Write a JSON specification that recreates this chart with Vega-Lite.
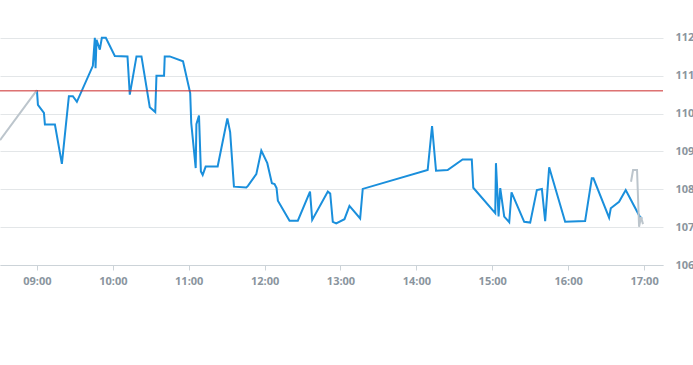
{
  "width": 663,
  "height": 265,
  "autosize": "none",
  "padding": {"left": 0, "top": 0, "right": 30, "bottom": 100},
  "background": "white",
  "config": {"view": {"stroke": null}},
  "datasets": {
    "price": [
      {"t": "2024-01-02T08:30:48", "v": 109.30, "s": "pre"},
      {"t": "2024-01-02T09:00:00", "v": 110.62, "s": "pre"},
      {"t": "2024-01-02T09:00:00", "v": 110.62, "s": "main"},
      {"t": "2024-01-02T09:00:47", "v": 110.23, "s": "main"},
      {"t": "2024-01-02T09:05:32", "v": 110.02, "s": "main"},
      {"t": "2024-01-02T09:06:19", "v": 109.71, "s": "main"},
      {"t": "2024-01-02T09:14:13", "v": 109.71, "s": "main"},
      {"t": "2024-01-02T09:19:44", "v": 108.67, "s": "main"},
      {"t": "2024-01-02T09:22:40", "v": 109.62, "s": "main"},
      {"t": "2024-01-02T09:25:16", "v": 110.46, "s": "main"},
      {"t": "2024-01-02T09:28:25", "v": 110.46, "s": "main"},
      {"t": "2024-01-02T09:31:35", "v": 110.31, "s": "main"},
      {"t": "2024-01-02T09:44:13", "v": 111.26, "s": "main"},
      {"t": "2024-01-02T09:45:47", "v": 112.00, "s": "main"},
      {"t": "2024-01-02T09:46:20", "v": 111.20, "s": "main"},
      {"t": "2024-01-02T09:47:08", "v": 111.95, "s": "main"},
      {"t": "2024-01-02T09:49:44", "v": 111.69, "s": "main"},
      {"t": "2024-01-02T09:51:19", "v": 112.00, "s": "main"},
      {"t": "2024-01-02T09:54:28", "v": 112.00, "s": "main"},
      {"t": "2024-01-02T10:01:35", "v": 111.52, "s": "main"},
      {"t": "2024-01-02T10:11:36", "v": 111.51, "s": "main"},
      {"t": "2024-01-02T10:13:25", "v": 110.50, "s": "main"},
      {"t": "2024-01-02T10:18:42", "v": 111.51, "s": "main"},
      {"t": "2024-01-02T10:22:39", "v": 111.51, "s": "main"},
      {"t": "2024-01-02T10:29:13", "v": 110.17, "s": "main"},
      {"t": "2024-01-02T10:33:33", "v": 110.04, "s": "main"},
      {"t": "2024-01-02T10:34:30", "v": 111.00, "s": "main"},
      {"t": "2024-01-02T10:40:30", "v": 111.00, "s": "main"},
      {"t": "2024-01-02T10:41:03", "v": 111.51, "s": "main"},
      {"t": "2024-01-02T10:45:00", "v": 111.51, "s": "main"},
      {"t": "2024-01-02T10:55:30", "v": 111.38, "s": "main"},
      {"t": "2024-01-02T11:01:11", "v": 110.54, "s": "main"},
      {"t": "2024-01-02T11:02:00", "v": 109.75, "s": "main"},
      {"t": "2024-01-02T11:05:32", "v": 108.56, "s": "main"},
      {"t": "2024-01-02T11:06:05", "v": 109.72, "s": "main"},
      {"t": "2024-01-02T11:08:08", "v": 109.95, "s": "main"},
      {"t": "2024-01-02T11:09:38", "v": 108.47, "s": "main"},
      {"t": "2024-01-02T11:11:03", "v": 108.38, "s": "main"},
      {"t": "2024-01-02T11:13:25", "v": 108.60, "s": "main"},
      {"t": "2024-01-02T11:22:54", "v": 108.60, "s": "main"},
      {"t": "2024-01-02T11:30:33", "v": 109.87, "s": "main"},
      {"t": "2024-01-02T11:32:46", "v": 109.51, "s": "main"},
      {"t": "2024-01-02T11:35:46", "v": 108.07, "s": "main"},
      {"t": "2024-01-02T11:45:34", "v": 108.05, "s": "main"},
      {"t": "2024-01-02T11:46:50", "v": 108.09, "s": "main"},
      {"t": "2024-01-02T11:53:27", "v": 108.40, "s": "main"},
      {"t": "2024-01-02T11:57:24", "v": 109.02, "s": "main"},
      {"t": "2024-01-02T12:02:08", "v": 108.69, "s": "main"},
      {"t": "2024-01-02T12:05:46", "v": 108.16, "s": "main"},
      {"t": "2024-01-02T12:07:53", "v": 108.14, "s": "main"},
      {"t": "2024-01-02T12:09:28", "v": 108.03, "s": "main"},
      {"t": "2024-01-02T12:10:30", "v": 107.70, "s": "main"},
      {"t": "2024-01-02T12:19:44", "v": 107.17, "s": "main"},
      {"t": "2024-01-02T12:26:17", "v": 107.17, "s": "main"},
      {"t": "2024-01-02T12:35:55", "v": 107.94, "s": "main"},
      {"t": "2024-01-02T12:37:39", "v": 107.19, "s": "main"},
      {"t": "2024-01-02T12:50:00", "v": 107.94, "s": "main"},
      {"t": "2024-01-02T12:51:53", "v": 107.89, "s": "main"},
      {"t": "2024-01-02T12:53:55", "v": 107.14, "s": "main"},
      {"t": "2024-01-02T12:56:36", "v": 107.10, "s": "main"},
      {"t": "2024-01-02T13:03:09", "v": 107.21, "s": "main"},
      {"t": "2024-01-02T13:07:06", "v": 107.56, "s": "main"},
      {"t": "2024-01-02T13:15:33", "v": 107.23, "s": "main"},
      {"t": "2024-01-02T13:17:36", "v": 108.01, "s": "main"},
      {"t": "2024-01-02T14:08:56", "v": 108.51, "s": "main"},
      {"t": "2024-01-02T14:12:24", "v": 109.67, "s": "main"},
      {"t": "2024-01-02T14:15:33", "v": 108.49, "s": "main"},
      {"t": "2024-01-02T14:24:43", "v": 108.51, "s": "main"},
      {"t": "2024-01-02T14:36:33", "v": 108.79, "s": "main"},
      {"t": "2024-01-02T14:43:49", "v": 108.79, "s": "main"},
      {"t": "2024-01-02T14:45:00", "v": 108.04, "s": "main"},
      {"t": "2024-01-02T15:02:22", "v": 107.37, "s": "main"},
      {"t": "2024-01-02T15:02:55", "v": 108.69, "s": "main"},
      {"t": "2024-01-02T15:05:00", "v": 107.28, "s": "main"},
      {"t": "2024-01-02T15:06:19", "v": 108.03, "s": "main"},
      {"t": "2024-01-02T15:09:28", "v": 107.28, "s": "main"},
      {"t": "2024-01-02T15:13:25", "v": 107.13, "s": "main"},
      {"t": "2024-01-02T15:15:14", "v": 107.92, "s": "main"},
      {"t": "2024-01-02T15:25:16", "v": 107.14, "s": "main"},
      {"t": "2024-01-02T15:30:00", "v": 107.12, "s": "main"},
      {"t": "2024-01-02T15:35:16", "v": 107.98, "s": "main"},
      {"t": "2024-01-02T15:39:14", "v": 108.01, "s": "main"},
      {"t": "2024-01-02T15:41:50", "v": 107.16, "s": "main"},
      {"t": "2024-01-02T15:45:00", "v": 108.58, "s": "main"},
      {"t": "2024-01-02T15:57:38", "v": 107.14, "s": "main"},
      {"t": "2024-01-02T16:13:25", "v": 107.16, "s": "main"},
      {"t": "2024-01-02T16:18:42", "v": 108.29, "s": "main"},
      {"t": "2024-01-02T16:20:00", "v": 108.29, "s": "main"},
      {"t": "2024-01-02T16:32:22", "v": 107.25, "s": "main"},
      {"t": "2024-01-02T16:33:43", "v": 107.50, "s": "main"},
      {"t": "2024-01-02T16:40:16", "v": 107.67, "s": "main"},
      {"t": "2024-01-02T16:45:32", "v": 107.98, "s": "main"},
      {"t": "2024-01-02T16:56:36", "v": 107.28, "s": "main"},
      {"t": "2024-01-02T16:58:25", "v": 107.22, "s": "main"},
      {"t": "2024-01-02T16:49:43", "v": 108.20, "s": "post"},
      {"t": "2024-01-02T16:51:20", "v": 108.51, "s": "post"},
      {"t": "2024-01-02T16:54:28", "v": 108.51, "s": "post"},
      {"t": "2024-01-02T16:56:05", "v": 107.01, "s": "post"},
      {"t": "2024-01-02T16:57:38", "v": 107.27, "s": "post"},
      {"t": "2024-01-02T16:59:12", "v": 107.08, "s": "post"}
    ],
    "ref": [{"level": 110.6}]
  },
  "layer": [
    {
      "data": {"name": "price"},
      "transform": [{"filter": "datum.s === 'main'"}],
      "mark": {"type": "line", "color": "#1a8fdc", "strokeWidth": 2, "clip": true},
      "encoding": {
        "x": {
          "field": "t", "type": "temporal",
          "scale": {"domain": [
            {"year": 2024, "month": 1, "date": 2, "hours": 8, "minutes": 30, "seconds": 48},
            {"year": 2024, "month": 1, "date": 2, "hours": 17, "minutes": 15, "seconds": 0}
          ], "nice": false},
          "axis": {
            "title": null, "format": "%H:%M", "tickCount": 9,
            "grid": false, "domainColor": "#ccd3d8", "tickColor": "#ccd3d8", "tickSize": 5,
            "labelColor": "#8a959e", "labelFontWeight": "bold", "labelFontSize": 11, "labelFont": "Open Sans",
            "labelPadding": 5
          }
        },
        "y": {
          "field": "v", "type": "quantitative",
          "scale": {"domain": [106, 113], "nice": false, "zero": false},
          "axis": {
            "orient": "right", "title": null, "values": [106, 107, 108, 109, 110, 111, 112],
            "domain": false, "ticks": false, "grid": true, "gridColor": "#e3e6e8",
            "labelColor": "#8a959e", "labelFontWeight": "bold", "labelFontSize": 11, "labelFont": "Open Sans",
            "labelPadding": 12
          }
        }
      }
    },
    {
      "data": {"name": "price"},
      "transform": [{"filter": "datum.s !== 'main'"}],
      "mark": {"type": "line", "color": "#bcc5cc", "strokeWidth": 2, "clip": true},
      "encoding": {
        "x": {"field": "t", "type": "temporal"},
        "y": {"field": "v", "type": "quantitative"},
        "detail": {"field": "s", "type": "nominal"}
      }
    },
    {
      "data": {"name": "ref"},
      "mark": {"type": "rule", "color": "#cc2a2a", "strokeWidth": 1},
      "encoding": {
        "y": {"field": "level", "type": "quantitative"}
      }
    }
  ]
}
